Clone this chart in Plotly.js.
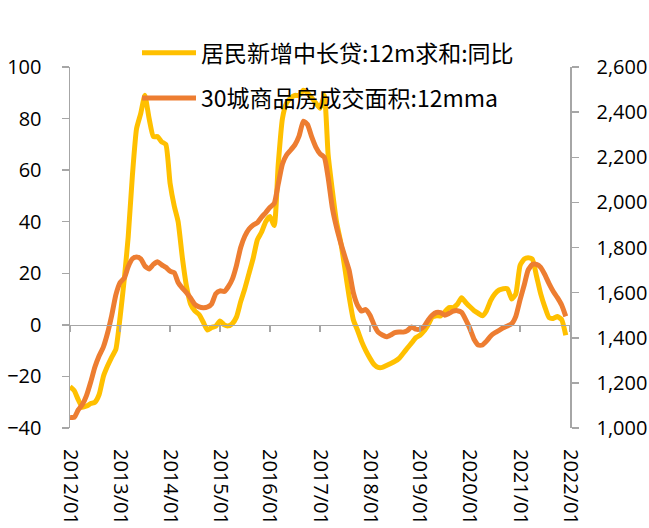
<!DOCTYPE html>
<html>
<head>
<meta charset="utf-8">
<script src="https://cdn.plot.ly/plotly-3.0.1.min.js"></script>
<style>
  html, body { margin: 0; padding: 0; background: #ffffff; }
  #chart { width: 649px; height: 528px; }
</style>
</head>
<body>
<div id="chart"></div>
<script>
// Monthly categories: 2012/01 .. 2021/12
const startYear = 2012;
const monthCount = 120;
const months = [];
for (let i = 0; i < monthCount; i++) {
  const y = startYear + Math.floor(i / 12);
  const m = (i % 12) + 1;
  months.push(y + '-' + (m < 10 ? '0' + m : m) + '-01');
}

const seriesNames = ['居民新增中长贷:12m求和:同比', '30城商品房成交面积:12mma'];

// 居民新增中长贷:12m求和:同比 (left axis, %)
const loanYoY = [
  -24, -25.5, -29, -32, -31.5, -30.5, -30, -27, -20, -16, -12.5, -9.5,
  3, 18, 34, 58, 76, 82, 89, 80, 73, 73, 71, 70,
  55, 46, 40, 26, 15, 8, 5.4, 4, 1, -2, -1, -0.5,
  1.5, 0, -0.4, 0.5, 3, 9, 14, 20, 26, 33, 36, 40,
  42, 38.5, 62, 80, 86, 88, 89, 89, 91, 90, 88, 86,
  84, 89, 66, 52, 40, 32, 22, 11, 2, -2, -6.5, -10,
  -13, -15.5, -16.5, -16.5, -15.8, -15, -14.2, -13, -11, -9, -7, -5,
  -4, -2.3, 0, 3, 3.5, 3.5, 5, 6.7, 6.7, 8, 10.5, 8.7,
  7, 5.5, 4.5, 3.5, 5.5, 9.5, 12, 13.5, 14, 14, 10, 12,
  23, 25.5, 26, 25.5, 19, 12, 7, 2.8, 2.5, 3.2, 2, -4
];

// 30城商品房成交面积:12mma (right axis)
const area12mma = [
  1047, 1047, 1080, 1105, 1145, 1205, 1270, 1320, 1360, 1420, 1500, 1590,
  1645, 1665, 1715, 1750, 1758, 1750, 1718, 1705, 1725, 1737, 1723, 1712,
  1695, 1688, 1645, 1620, 1600, 1575, 1548, 1537, 1533, 1536, 1550, 1595,
  1608, 1605, 1625, 1660, 1720, 1800, 1850, 1882, 1900, 1910, 1935, 1955,
  1978, 1995, 2080, 2170, 2210, 2232, 2255, 2295, 2360, 2345, 2290, 2245,
  2215, 2200, 2110, 1975, 1890, 1820, 1760, 1700, 1600, 1545, 1518, 1525,
  1500, 1455, 1425, 1412, 1404, 1412, 1423, 1426, 1425, 1432, 1448, 1438,
  1438, 1451, 1478, 1500, 1512, 1511, 1500, 1508, 1518, 1520, 1512, 1480,
  1440, 1392, 1368, 1368, 1385, 1408, 1422, 1433, 1444, 1452, 1462, 1495,
  1568, 1635, 1700, 1725, 1725, 1712, 1680, 1640, 1605, 1578, 1545, 1495
];

const leftRange = [-40, 100];
const rightRange = [1000, 2600];
const xRange = ['2012-01-01', '2022-01-01'];

const axisGray = '#A6A6A6';
const tickFont = { family: 'Open Sans, Noto Sans, sans-serif', size: 20, color: '#000000' };

const traces = [
  {
    x: months, y: loanYoY, name: seriesNames[0], type: 'scatter', mode: 'lines',
    line: { color: '#FFC000', width: 5, shape: 'spline', smoothing: 0.5 },
    xaxis: 'x', yaxis: 'y', legend: 'legend'
  },
  {
    x: months, y: area12mma, name: seriesNames[1], type: 'scatter', mode: 'lines',
    line: { color: '#ED7D31', width: 5, shape: 'spline', smoothing: 0.5 },
    xaxis: 'x', yaxis: 'y2', legend: 'legend2'
  }
];

const legendFont = { family: 'Noto Sans CJK SC, sans-serif', size: 23, color: '#000000' };

const layout = {
  width: 649, height: 528,
  margin: { l: 70, r: 79, t: 67, b: 100, pad: 0 },
  paper_bgcolor: '#ffffff', plot_bgcolor: '#ffffff',
  showlegend: true,
  legend: {
    x: 0.134, y: 1.039, xanchor: 'left', yanchor: 'middle',
    bgcolor: 'rgba(0,0,0,0)', borderwidth: 0, font: legendFont, itemwidth: 54
  },
  legend2: {
    x: 0.134, y: 0.914, xanchor: 'left', yanchor: 'middle',
    bgcolor: 'rgba(0,0,0,0)', borderwidth: 0, font: legendFont, itemwidth: 54
  },
  xaxis: {
    type: 'date', range: xRange, tick0: '2012-01-01', dtick: 'M12', tickformat: '%Y/%m',
    tickangle: 90, showline: false, ticks: '', showgrid: false, zeroline: false,
    tickfont: tickFont, ticklabelstandoff: 20, anchor: 'y'
  },
  xaxis2: {
    type: 'date', overlaying: 'x', matches: 'x', anchor: 'free',
    position: (0 - leftRange[0]) / (leftRange[1] - leftRange[0]),
    tick0: '2012-01-01', dtick: 'M12', showticklabels: false,
    showline: true, linecolor: axisGray, linewidth: 1.5,
    ticks: 'outside', ticklen: 6, tickcolor: axisGray, tickwidth: 1.5,
    showgrid: false, zeroline: false
  },
  yaxis: {
    range: leftRange, dtick: 20, tick0: 0, showline: true, linecolor: axisGray, linewidth: 1.5,
    ticks: 'outside', ticklen: 7, tickcolor: axisGray, tickwidth: 1.5,
    showgrid: false, zeroline: false, tickfont: tickFont, ticklabelstandoff: 16
  },
  yaxis2: {
    range: rightRange, dtick: 200, tick0: 1000, overlaying: 'y', side: 'right',
    tickformat: ',', showline: true, linecolor: axisGray, linewidth: 1.5,
    ticks: 'outside', ticklen: 7, tickcolor: axisGray, tickwidth: 1.5,
    showgrid: false, zeroline: false, tickfont: tickFont, ticklabelstandoff: 14
  }
};

// invisible helper trace so the zero-crossing axis is drawn
traces.unshift({
  x: [months[0]], y: [0], xaxis: 'x2', yaxis: 'y', type: 'scatter', mode: 'lines',
  showlegend: false, hoverinfo: 'skip', line: { width: 0 }
});

Plotly.newPlot('chart', traces, layout, { displayModeBar: false, staticPlot: true });
</script>
</body>
</html>
